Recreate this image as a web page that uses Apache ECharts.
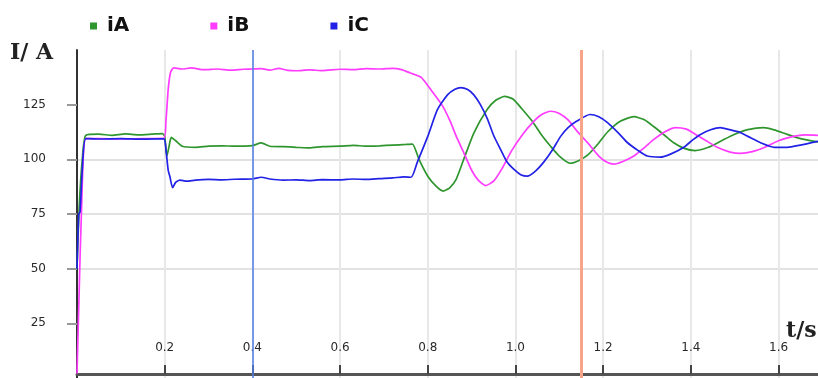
<!DOCTYPE html>
<html>
<head>
<meta charset="utf-8">
<style>
  html, body { margin: 0; padding: 0; background: #fff; }
  #chart { width: 818px; height: 378px; }
</style>
<script src="https://cdn.jsdelivr.net/npm/echarts@6/dist/echarts.min.js"></script>
</head>
<body>
<div id="chart"></div>
<script>
// [t (s), current (A)]
const iAData = [
  [0, 50], [0.005, 78], [0.012, 100], [0.02, 111], [0.05, 111.5], [0.08, 111], [0.11, 111.6],
  [0.14, 111.2], [0.17, 111.5], [0.195, 111.8], [0.2, 110.5], [0.205, 101.5], [0.21, 106],
  [0.215, 110], [0.225, 108.5], [0.24, 106], [0.27, 105.5], [0.3, 106], [0.33, 106.2],
  [0.36, 106], [0.4, 106.3], [0.42, 107.5], [0.44, 106], [0.47, 105.8], [0.5, 105.5],
  [0.53, 105.2], [0.56, 105.8], [0.6, 106], [0.63, 106.4], [0.66, 106], [0.69, 106.2],
  [0.72, 106.5], [0.75, 106.8], [0.765, 107], [0.78, 100], [0.8, 92.3], [0.82, 87.5],
  [0.835, 85.5], [0.85, 87], [0.865, 91], [0.882, 100], [0.905, 112], [0.935, 122.7],
  [0.955, 127], [0.975, 128.8], [0.995, 127.5], [1.015, 123], [1.04, 117], [1.06, 111],
  [1.08, 106], [1.1, 101.5], [1.125, 98.2], [1.145, 99.5], [1.165, 102], [1.19, 107.5],
  [1.21, 112.5], [1.24, 117.5], [1.27, 119.5], [1.295, 118], [1.315, 115], [1.34, 111],
  [1.36, 107.7], [1.385, 105], [1.41, 104], [1.44, 105.5], [1.467, 108.2], [1.5, 111.5],
  [1.53, 113.6], [1.566, 114.5], [1.59, 113.5], [1.62, 111.4], [1.65, 109.5], [1.69, 108]
]
const iBData = [
  [0, 2], [0.005, 40], [0.01, 75], [0.02, 109.5], [0.05, 109.5], [0.1, 109.3], [0.15, 109.5],
  [0.198, 109.6], [0.203, 118], [0.208, 132], [0.213, 139.5], [0.22, 141.8], [0.24, 141.3],
  [0.26, 141.8], [0.29, 141], [0.32, 141.3], [0.35, 140.8], [0.38, 141.2], [0.4, 141.3],
  [0.42, 141.5], [0.44, 140.8], [0.46, 141.6], [0.48, 140.7], [0.5, 140.5], [0.53, 140.9],
  [0.56, 140.6], [0.6, 141.2], [0.63, 141], [0.66, 141.5], [0.69, 141.3], [0.72, 141.6],
  [0.74, 141], [0.76, 139.5], [0.785, 137.5], [0.81, 131], [0.835, 124], [0.852, 117],
  [0.865, 110.5], [0.88, 104], [0.9, 95], [0.915, 90.5], [0.932, 88], [0.95, 90], [0.97, 96],
  [0.99, 103.5], [1.015, 111], [1.04, 117], [1.06, 120.5], [1.08, 122], [1.1, 121],
  [1.12, 118], [1.14, 113], [1.165, 107.5], [1.19, 101.5], [1.21, 98.5], [1.225, 97.8],
  [1.245, 99], [1.27, 101.5], [1.295, 105.5], [1.315, 109], [1.34, 112.5], [1.365, 114.5],
  [1.39, 113.8], [1.41, 111.5], [1.435, 108.5], [1.46, 105.5], [1.49, 103.3], [1.513, 102.7],
  [1.54, 103.5], [1.574, 106], [1.6, 108.5], [1.634, 110.5], [1.66, 111.2], [1.69, 111]
]
const iCData = [
  [0, 50], [0.004, 75], [0.007, 76], [0.012, 95], [0.02, 109.5], [0.05, 109.3], [0.1, 109.5],
  [0.15, 109.2], [0.198, 109.4], [0.203, 104], [0.208, 95], [0.212, 92], [0.218, 87],
  [0.225, 89.5], [0.235, 90.5], [0.25, 90], [0.27, 90.5], [0.3, 90.8], [0.33, 90.6],
  [0.36, 90.9], [0.4, 91], [0.42, 91.8], [0.44, 91], [0.47, 90.5], [0.5, 90.6], [0.53, 90.3],
  [0.56, 90.7], [0.6, 90.6], [0.63, 91], [0.66, 90.8], [0.69, 91.2], [0.72, 91.5],
  [0.745, 92], [0.762, 91.8], [0.776, 98.6], [0.8, 110.5], [0.822, 122.7], [0.845, 129.5],
  [0.862, 132], [0.875, 132.8], [0.89, 132], [0.905, 129.5], [0.92, 125], [0.936, 118.5],
  [0.95, 111], [0.966, 104.5], [0.98, 99], [0.996, 95.5], [1.012, 93], [1.027, 92.3],
  [1.045, 94.5], [1.064, 98.6], [1.085, 104.5], [1.103, 110.5], [1.12, 114.5], [1.14, 117.5],
  [1.17, 120.5], [1.19, 119.5], [1.21, 116.8], [1.235, 112], [1.255, 107.7], [1.28, 104],
  [1.301, 101.5], [1.33, 101], [1.355, 102.5], [1.384, 105.5], [1.405, 109], [1.422, 111.4],
  [1.445, 113.5], [1.467, 114.5], [1.49, 113.5], [1.51, 112.5], [1.53, 110.5], [1.56, 107.5],
  [1.59, 105.5], [1.62, 105.5], [1.65, 106.5], [1.69, 108.2]
]
const seriesNames = ['iA', 'iB', 'iC']
const yTickValues = [25, 50, 75, 100, 125]
const cursorTimes = [0.4, 1.145]

const myChart = echarts.init(document.getElementById('chart'))
const labelFont = { fontFamily: 'DejaVu Sans', fontSize: 12, color: '#2a2a2a' }

const option = {
  animation: false,
  color: ['#2f962f', '#ff3cff', '#2222e6'],
  grid: { left: 77, right: 0, top: 50, bottom: -2 },
  legend: {
    data: seriesNames,
    left: 85,
    top: 11,
    icon: 'rect',
    itemWidth: 7,
    itemHeight: 7,
    itemGap: 81,
    textStyle: {
      fontFamily: 'DejaVu Sans',
      fontWeight: 'bold',
      fontSize: 20,
      color: '#111',
      padding: [0, 0, 0, 5],
    },
  },
  graphic: [
    {
      type: 'text',
      left: 10,
      top: 42,
      style: { text: 'I/ A', font: 'bold 22px "DejaVu Serif"', fill: '#222' },
    },
    {
      type: 'text',
      left: 786,
      top: 320,
      style: { text: 't/s', font: 'bold 22px "DejaVu Serif"', fill: '#222' },
    },
  ],
  xAxis: {
    type: 'value',
    min: 0,
    max: 1.69,
    interval: 0.2,
    offset: -4,
    axisLine: { onZero: false, lineStyle: { color: '#555', width: 3 } },
    axisTick: { inside: true, length: 9, lineStyle: { color: '#444', width: 2 } },
    axisLabel: {
      inside: true,
      margin: 20,
      showMinLabel: false,
      showMaxLabel: false,
      formatter: (v) => v.toFixed(1),
      ...labelFont,
    },
    splitLine: {
      show: true,
      showMinLine: false,
      showMaxLine: false,
      lineStyle: { color: '#e8e8e8', width: 2 },
    },
  },
  yAxis: {
    type: 'value',
    min: 0,
    max: 150,
    interval: 25,
    axisLine: { show: true, lineStyle: { color: '#333', width: 2 } },
    axisTick: {
      show: true,
      length: 10,
      customValues: yTickValues,
      lineStyle: { color: '#999', width: 2 },
    },
    axisLabel: {
      margin: 31,
      showMinLabel: false,
      showMaxLabel: false,
      ...labelFont,
    },
    splitLine: {
      show: true,
      showMinLine: false,
      showMaxLine: false,
      lineStyle: { color: '#e2e2e2', width: 2 },
    },
  },
  series: [
    {
      name: 'iA',
      type: 'line',
      data: iAData,
      showSymbol: false,
      smooth: 0.2,
      lineStyle: { width: 1.7 },
      markLine: {
        silent: true,
        symbol: 'none',
        label: { show: false },
        data: [
          { xAxis: cursorTimes[0], lineStyle: { color: '#4f7fe3', width: 1.5, type: 'solid' } },
          { xAxis: cursorTimes[1], lineStyle: { color: '#f7a488', width: 3, type: 'solid' } },
        ],
      },
    },
    {
      name: 'iB',
      type: 'line',
      data: iBData,
      showSymbol: false,
      smooth: 0.2,
      lineStyle: { width: 1.7 },
    },
    {
      name: 'iC',
      type: 'line',
      data: iCData,
      showSymbol: false,
      smooth: 0.2,
      lineStyle: { width: 1.7 },
    },
  ],
}
myChart.setOption(option)
window.addEventListener('resize', () => {
  myChart.resize()
})
</script>
</body>
</html>
